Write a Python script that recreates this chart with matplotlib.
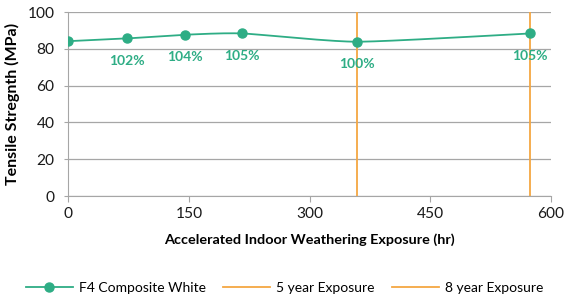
import numpy as np
import matplotlib
matplotlib.use("Agg")
import matplotlib.pyplot as plt

hours = [0, 73, 145, 216, 359, 574]
strength = [84.2, 85.7, 87.7, 88.4, 83.9, 88.4]
labels = ["", "102%", "104%", "105%", "100%", "105%"]
five_year = 359
eight_year = 574
xticks = [0, 150, 300, 450, 600]
yticks = [0, 20, 40, 60, 80, 100]

green = "#2EAD85"
orange = "#F5A742"

plt.rcParams['font.family'] = ['Lato', 'DejaVu Sans']

fig = plt.figure(figsize=(5.66, 3.03), dpi=100)
ax = fig.add_axes([0.1207, 0.353, 0.853, 0.607])

# smooth curve through points (Catmull-Rom, for drawing only)
def smooth(xs, ys, n=30):
    xs = np.asarray(xs, float); ys = np.asarray(ys, float)
    px = np.concatenate([[xs[0]], xs, [xs[-1]]])
    py = np.concatenate([[ys[0]], ys, [ys[-1]]])
    ox, oy = [], []
    for i in range(1, len(px) - 2):
        t = np.linspace(0, 1, n)
        p0x, p1x, p2x, p3x = px[i-1:i+3]
        p0y, p1y, p2y, p3y = py[i-1:i+3]
        m1x, m2x = (p2x - p0x) / 2 * 0.6, (p3x - p1x) / 2 * 0.6
        m1y, m2y = (p2y - p0y) / 2 * 0.6, (p3y - p1y) / 2 * 0.6
        h00 = 2*t**3 - 3*t**2 + 1; h10 = t**3 - 2*t**2 + t
        h01 = -2*t**3 + 3*t**2; h11 = t**3 - t**2
        ox.extend(h00*p1x + h10*m1x + h01*p2x + h11*m2x)
        oy.extend(h00*p1y + h10*m1y + h01*p2y + h11*m2y)
    return np.array(ox), np.array(oy)

sx, sy = smooth(hours, strength)
ax.plot(sx, sy, color=green, lw=1.3, zorder=3)
ax.plot(hours, strength, 'o', color=green, ms=6.5, zorder=4)
line_handle = plt.Line2D([], [], color=green, marker='o', ms=6.5, lw=1.3)

ax.axvline(five_year, color=orange, lw=1.3, zorder=2)
ax.axvline(eight_year, color=orange, lw=1.3, zorder=2)

for x, y, lab in zip(hours, strength, labels):
    if lab:
        ax.annotate(lab, (x, y), xytext=(0, -16.2), textcoords='offset points',
                    ha='center', va='center', color=green, fontsize=10, fontweight='bold')

ax.set_xlim(0, 600)
ax.set_ylim(0, 100)
ax.set_xticks(xticks)
ax.set_yticks(yticks)
ax.grid(axis='y', color='#A6A6A6', lw=0.9)
ax.set_axisbelow(True)
for s in ['top', 'right']:
    ax.spines[s].set_visible(False)
for s in ['left', 'bottom']:
    ax.spines[s].set_color('#A6A6A6')
ax.tick_params(axis='x', colors='#A6A6A6', labelcolor='#1a1a1a', labelsize=11.2, length=4, direction='out', pad=4)
ax.tick_params(axis='y', colors='#A6A6A6', labelcolor='#1a1a1a', labelsize=11.2, length=3, pad=7)

ax.set_xlabel("Accelerated Indoor Weathering Exposure (hr)", fontsize=10.4, fontweight='bold', labelpad=9)
ax.set_ylabel("Tensile Stregnth (MPa)", fontsize=11.5, fontweight='bold', labelpad=5)

h5 = plt.Line2D([], [], color=orange, lw=1.3)
h8 = plt.Line2D([], [], color=orange, lw=1.3)
fig.legend([line_handle, h5, h8], ["F4 Composite White", "5 year Exposure", "8 year Exposure"],
           loc='center', bbox_to_anchor=(0.503, 0.05), ncol=3, frameon=False, fontsize=10,
           handlelength=3.4, columnspacing=1.2, handletextpad=0.45)

fig.savefig("out.png", dpi=100)
